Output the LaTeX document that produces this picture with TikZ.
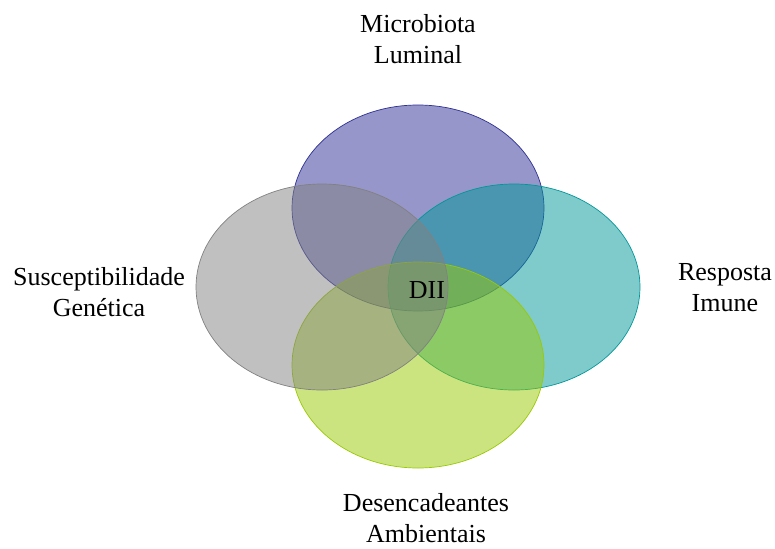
\documentclass[tikz,border=0pt]{standalone}
\usepackage{fontspec}
\setmainfont{Liberation Serif}
\usepackage{tikz}
\usetikzlibrary{positioning,shapes.geometric}

\definecolor{micro}{RGB}{45,45,149}
\definecolor{microline}{RGB}{46,49,146}
\definecolor{gene}{RGB}{129,129,129}
\definecolor{imune}{RGB}{0,151,153}
\definecolor{amb}{RGB}{153,201,1}

\begin{document}
\begin{tikzpicture}[
  x=1pt,y=-1pt,
  every node/.style={align=center,inner sep=0pt,outer sep=0pt},
  lbl/.style={font=\fontsize{26}{31}\selectfont},
  circ/.style={ellipse,minimum width=252pt,minimum height=206pt,
               line width=0.7pt,fill opacity=0.5}
]
\useasboundingbox (0,0) rectangle (775,548);
% --- the four ellipses ---
\node[circ,draw=microline,fill=micro] (micro) at (418,208) {};
\node[circ,draw=imune,fill=imune]     (imune) at (514,287) {};
\node[circ,draw=amb,fill=amb]         (amb)   at (418,365) {};
\node[circ,draw=gene,fill=gene]       (gene)  at (322,287) {};
% --- centre ---
\node[lbl] (dii) at (427,290) {DII};
% --- labels round the ellipses ---
\node[lbl,above=41pt of micro] (tmicro) {Microbiota\\Luminal};
\node[lbl,left=11pt of gene,yshift=-5.5pt] (tgene) {Susceptibilidade\\Genética};
\node[lbl,right=38pt of imune,yshift=-1pt] (timune) {Resposta\\Imune};
\node[lbl,below=25.5pt of amb,xshift=8pt] (tamb) {Desencadeantes\\Ambientais};
\end{tikzpicture}
\end{document}
